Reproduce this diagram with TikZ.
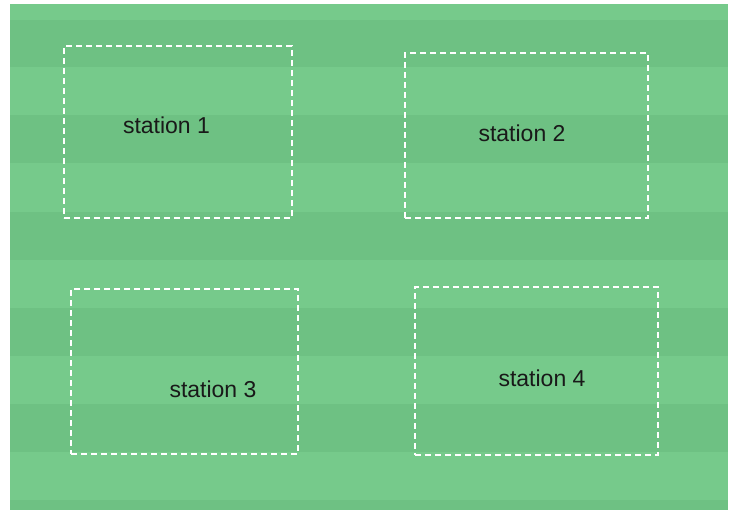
\documentclass[tikz,border=0pt]{standalone}
\usepackage{fontspec}
\setmainfont{Liberation Sans}
\definecolor{lightg}{RGB}{118,202,139}
\definecolor{darkg}{RGB}{110,193,131}
\begin{document}
\begin{tikzpicture}[x=1pt,y=1pt,
  stationbox/.style={draw=white,line width=1.5pt,dash pattern=on 6pt off 4pt,rectangle,inner sep=0pt},
  lbl/.style={font=\fontsize{23}{26}\selectfont,text=black!90,inner sep=0pt}]
\useasboundingbox (0,0) rectangle (737,510);
\fill[white] (0,0) rectangle (737,510);
\fill[lightg] (10,0) rectangle (728,506);
% dark stripes (image y -> 510-y)
\foreach \a/\b in {20/67,115/163,212/260,308/356,404/452,500/510}{
  \fill[darkg] (10,510-\a) rectangle (728,510-\b);
}
\node[stationbox,minimum width=228pt,minimum height=172pt] (b1) at (178,510-132) {};
\node[stationbox,minimum width=243pt,minimum height=165pt] (b2) at (526.5,510-135.5) {};
\node[stationbox,minimum width=227pt,minimum height=165pt] (b3) at (184.5,510-371.5) {};
\node[stationbox,minimum width=243pt,minimum height=168pt] (b4) at (536.5,510-371) {};
\node[lbl] (t1) at (166.5,510-125) {station 1};
\node[lbl] (t2) at (522,510-133) {station 2};
\node[lbl] (t3) at (213,510-389) {station 3};
\node[lbl] (t4) at (542,510-378) {station 4};
\end{tikzpicture}
\end{document}
